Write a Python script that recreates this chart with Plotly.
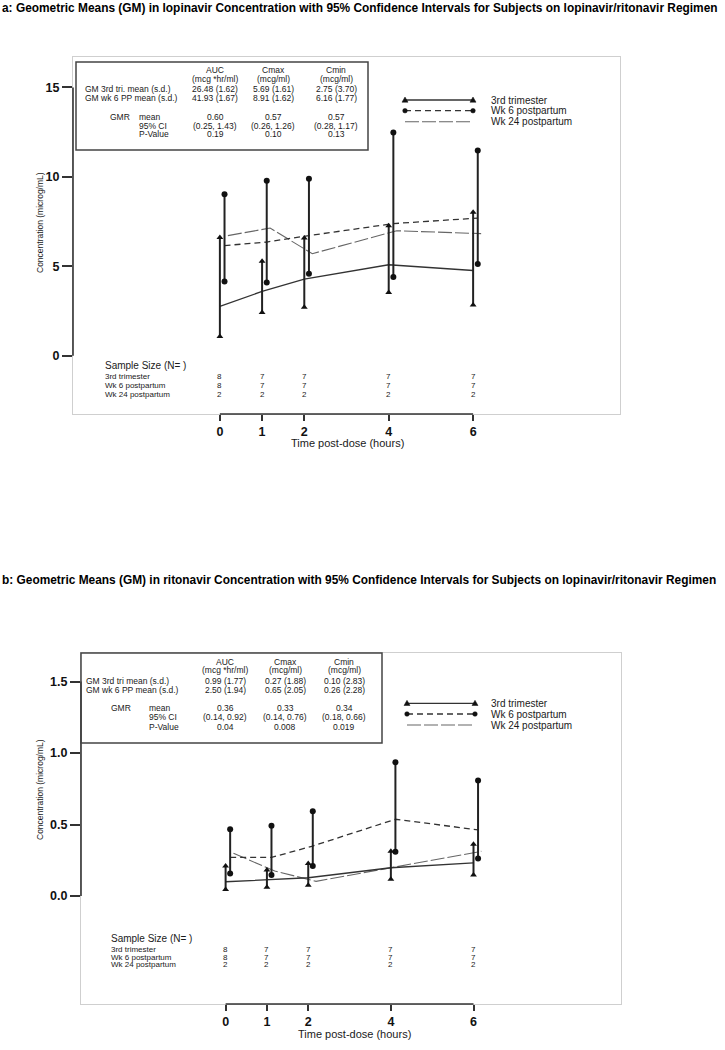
import plotly.graph_objects as go

# ---------------- data ----------------
times = [0, 1, 2, 4, 6]
tick_labels = ["0", "1", "2", "4", "6"]

# panel a: lopinavir (microg/mL)
tri_gm_a = [2.76, 3.60, 4.29, 5.09, 4.77]
tri_lo_a = [1.08, 2.42, 2.72, 3.54, 2.84]
tri_hi_a = [6.62, 5.28, 6.58, 7.27, 8.02]
wk6_gm_a = [6.16, 6.36, 6.72, 7.39, 7.70]
wk6_lo_a = [4.16, 4.10, 4.59, 4.40, 5.13]
wk6_hi_a = [9.03, 9.79, 9.89, 12.48, 11.47]
wk24_gm_a = [6.72, 7.14, 5.71, 6.99, 6.83]

# panel b: ritonavir (microg/mL)
tri_gm_b = [0.100, 0.115, 0.128, 0.198, 0.232]
tri_lo_b = [0.045, 0.062, 0.076, 0.117, 0.147]
tri_hi_b = [0.210, 0.182, 0.227, 0.314, 0.362]
wk6_gm_b = [0.270, 0.270, 0.350, 0.537, 0.463]
wk6_lo_b = [0.157, 0.147, 0.210, 0.310, 0.262]
wk6_hi_b = [0.468, 0.491, 0.593, 0.935, 0.808]
wk24_gm_b = [0.299, 0.175, 0.103, 0.210, 0.313]

# sample sizes
n_tri = [8, 7, 7, 7, 7]
n_wk6 = [8, 7, 7, 7, 7]
n_wk24 = [2, 2, 2, 2, 2]
group_names = ["3rd trimester", "Wk 6 postpartum", "Wk 24 postpartum"]

# tables
col_hdr = ["AUC", "Cmax", "Cmin"]
col_units = ["(mcg *hr/ml)", "(mcg/ml)", "(mcg/ml)"]
row_lbl_a = ["GM 3rd tri. mean (s.d.)", "GM wk 6 PP mean (s.d.)"]
row_lbl_b = ["GM 3rd tri mean (s.d.)", "GM wk 6 PP mean (s.d.)"]
gmr_lbl = ["mean", "95% CI", "P-Value"]
gm_tri_a = ["26.48 (1.62)", "5.69 (1.61)", "2.75 (3.70)"]
gm_wk6_a = ["41.93 (1.67)", "8.91 (1.62)", "6.16 (1.77)"]
gmr_mean_a = ["0.60", "0.57", "0.57"]
gmr_ci_a = ["(0.25, 1.43)", "(0.26, 1.26)", "(0.28, 1.17)"]
pval_a = ["0.19", "0.10", "0.13"]
gm_tri_b = ["0.99 (1.77)", "0.27 (1.88)", "0.10 (2.83)"]
gm_wk6_b = ["2.50 (1.94)", "0.65 (2.05)", "0.26 (2.28)"]
gmr_mean_b = ["0.36", "0.33", "0.34"]
gmr_ci_b = ["(0.14, 0.92)", "(0.14, 0.76)", "(0.18, 0.66)"]
pval_b = ["0.04", "0.008", "0.019"]

title_a = ("a: Geometric Means (GM) in lopinavir Concentration with 95% Confidence "
           "Intervals for Subjects on lopinavir/ritonavir Regimen")
title_b = ("b: Geometric Means (GM) in ritonavir Concentration with 95% Confidence "
           "Intervals for Subjects on lopinavir/ritonavir Regimen")
ytitle = "Concentration (microg/mL)"
xtitle = "Time post-dose (hours)"

# ---------------- helpers ----------------
W, H = 725, 1050
FONT = "Liberation Sans, Arial, Helvetica, sans-serif"
INK = "#1a1a1a"


def px(x):
    return x / W


def py(y):
    return 1 - y / H


fig = go.Figure()
annotations = []
shapes = []


def txt(x, y, s, size=8.5, anchor="center", xref="paper", bold=False, color=INK, angle=0):
    annotations.append(dict(
        x=px(x) if xref == "paper" else x, y=py(y), xref=xref, yref="paper",
        text=f"<b>{s}</b>" if bold else s, showarrow=False,
        xanchor=anchor, yanchor="middle", textangle=angle,
        font=dict(family=FONT, size=size, color=color)))


OFF_TRI, OFF_WK6, OFF_WK24 = 0.0, 0.11, 0.19


def add_panel(xa, ya, gm_t, lo_t, hi_t, gm_6, lo_6, hi_6, gm_24):
    xt = [t + OFF_TRI for t in times]
    x6 = [t + OFF_WK6 for t in times]
    x24 = [t + OFF_WK24 for t in times]
    fig.add_trace(go.Scatter(x=x24, y=gm_24, mode="lines", xaxis=xa, yaxis=ya,
                             line=dict(color="#666666", width=1.1, dash="14px,3px"),
                             showlegend=False, hoverinfo="skip"))
    fig.add_trace(go.Scatter(x=x6, y=gm_6, mode="lines", xaxis=xa, yaxis=ya,
                             line=dict(color="#333333", width=1.3, dash="6px,4px"),
                             showlegend=False, hoverinfo="skip"))
    fig.add_trace(go.Scatter(x=xt, y=gm_t, mode="lines", xaxis=xa, yaxis=ya,
                             line=dict(color="#333333", width=1.3),
                             showlegend=False, hoverinfo="skip"))
    for xs, los, his, sym in ((xt, lo_t, hi_t, "triangle-up"), (x6, lo_6, hi_6, "circle")):
        bx, by = [], []
        for x, lo, hi in zip(xs, los, his):
            bx += [x, x, None]
            by += [lo, hi, None]
        fig.add_trace(go.Scatter(x=bx, y=by, mode="lines+markers", xaxis=xa, yaxis=ya,
                                 line=dict(color="#222222", width=2),
                                 marker=dict(symbol=sym, size=6, color="#111111"),
                                 showlegend=False, hoverinfo="skip"))


add_panel("x", "y", tri_gm_a, tri_lo_a, tri_hi_a, wk6_gm_a, wk6_lo_a, wk6_hi_a, wk24_gm_a)
add_panel("x2", "y2", tri_gm_b, tri_lo_b, tri_hi_b, wk6_gm_b, wk6_lo_b, wk6_hi_b, wk24_gm_b)

TICKFONT = dict(family=FONT, size=12.5, color="#111", weight="bold")


def xaxis_cfg(d0, d1, rng, anchor):
    return dict(domain=[px(d0), px(d1)], range=rng, anchor=anchor,
                tickvals=times, ticktext=tick_labels, ticks="outside", ticklen=6,
                tickwidth=1.5, tickcolor="#333", showline=True, mirror=True,
                linecolor="#cfcfcf", linewidth=1, showgrid=False, zeroline=False,
                tickfont=TICKFONT, fixedrange=True)


def yaxis_cfg(top, bot, rng, tv, tt, anchor):
    return dict(domain=[py(bot), py(top)], range=rng, anchor=anchor,
                tickvals=tv, ticktext=tt, ticks="outside", ticklen=10,
                tickwidth=1.5, tickcolor="#333", showline=True, mirror=True,
                linecolor="#cfcfcf", linewidth=1, showgrid=False, zeroline=False,
                tickfont=TICKFONT, fixedrange=True)


A = dict(l=73, r=620, t=57, b=414)
B = dict(l=81, r=621, t=653, b=1004)

xa_cfg = xaxis_cfg(A["l"], A["r"], [-3.48, 9.48], "y")
ya_cfg = yaxis_cfg(A["t"], A["b"], [-3.25, 16.7], [0, 5, 10, 15], ["0", "5", "10", "15"], "x")
xb_cfg = xaxis_cfg(B["l"], B["r"], [-3.50, 9.57], "y2")
yb_cfg = yaxis_cfg(B["t"], B["b"], [-0.755, 1.70], [0, 0.5, 1.0, 1.5], ["0.0", "0.5", "1.0", "1.5"], "x2")

for xr, yr, ytop in (("x", "y", 15), ("x2", "y2", 1.5)):
    shapes.append(dict(type="line", xref=f"{xr} domain", yref=yr, x0=0, x1=0, y0=0, y1=ytop,
                       line=dict(color="#333", width=1.6)))
    shapes.append(dict(type="line", xref=xr, yref=f"{yr} domain", x0=0, x1=6, y0=0, y1=0,
                       line=dict(color="#333", width=1.6)))


def table(box, hdr_y, rows_y, gmr_y, cols_x, lbl_x, gmr_x, sub_x, row_lbls, vals, gvals):
    l, t, r, b = box
    shapes.append(dict(type="rect", xref="paper", yref="paper", x0=px(l), x1=px(r),
                       y0=py(b), y1=py(t), line=dict(color="#444", width=1.5)))
    for cx, h, u in zip(cols_x, col_hdr, col_units):
        txt(cx, hdr_y[0], h)
        txt(cx, hdr_y[1], u)
    for ry, lbl, rv in zip(rows_y, row_lbls, vals):
        txt(lbl_x, ry, lbl, anchor="left")
        for cx, v in zip(cols_x, rv):
            txt(cx, ry, v)
    txt(gmr_x, gmr_y[0], "GMR", anchor="left")
    for gy, lbl, gv in zip(gmr_y, gmr_lbl, gvals):
        txt(sub_x, gy, lbl, anchor="left")
        for cx, v in zip(cols_x, gv):
            txt(cx, gy, v)


table((76, 62, 368, 150), (70, 79), (88.7, 98.3), (116.7, 125.7, 134.3),
      (215, 273, 336), 83, 108, 137, row_lbl_a, (gm_tri_a, gm_wk6_a),
      (gmr_mean_a, gmr_ci_a, pval_a))
table((81, 653, 382, 743), (661.7, 670), (681, 690), (708.3, 717.3, 726.7),
      (225, 285, 344), 83.5, 109, 146.7, row_lbl_b, (gm_tri_b, gm_wk6_b),
      (gmr_mean_b, gmr_ci_b, pval_b))


def legend(x0, x1, xt, ys):
    styles = [("solid", "#333", 1.3, "tri"), ("6px,4px", "#333", 1.3, "dot"),
              ("14px,3px", "#666", 1.1, None)]
    for y, name, (dash, col, w, mk) in zip(ys, group_names, styles):
        shapes.append(dict(type="line", xref="paper", yref="paper", x0=px(x0), x1=px(x1),
                           y0=py(y), y1=py(y), line=dict(color=col, width=w, dash=dash)))
        for xm in (x0, x1):
            if mk == "tri":
                path = (f"M {px(xm - 3)} {py(y + 2.2)} L {px(xm + 3)} {py(y + 2.2)} "
                        f"L {px(xm)} {py(y - 3)} Z")
                shapes.append(dict(type="path", xref="paper", yref="paper", path=path,
                                   fillcolor="#111", line=dict(color="#111", width=0.5)))
            elif mk == "dot":
                shapes.append(dict(type="circle", xref="paper", yref="paper",
                                   x0=px(xm - 2.3), x1=px(xm + 2.3), y0=py(y + 2.3),
                                   y1=py(y - 2.3), fillcolor="#111",
                                   line=dict(color="#111", width=0.5)))
        txt(xt, y, name, size=10, anchor="left")


legend(405, 473, 489, (100, 110.7, 121.7))
legend(407, 475, 489, (703.3, 714, 725))


def sample_size(xl, head_y, rows_y, xref):
    txt(xl, head_y, "Sample Size (N= )", size=10, anchor="left")
    for ry, name, ns in zip(rows_y, group_names, (n_tri, n_wk6, n_wk24)):
        txt(xl, ry, name, size=8, anchor="left")
        for t, n in zip(times, ns):
            txt(t, ry, str(n), size=8, xref=xref)


sample_size(103, 365, (376.7, 385.7, 394.3), "x")
sample_size(109, 938, (949, 957, 964), "x2")

txt(0, 8, title_a, size=11.9, anchor="left", bold=True, color="#000")
txt(0, 580, title_b, size=11.9, anchor="left", bold=True, color="#000")
txt(347, 443, xtitle, size=11)
txt(354, 1034, xtitle, size=11)
txt(40, 223, ytitle, size=8.5, angle=-90)
txt(40, 790, ytitle, size=8.5, angle=-90)

fig.update_layout(
    width=W, height=H, margin=dict(l=0, r=0, t=0, b=0),
    paper_bgcolor="white", plot_bgcolor="white", showlegend=False,
    xaxis=xa_cfg, yaxis=ya_cfg, xaxis2=xb_cfg, yaxis2=yb_cfg,
    annotations=annotations, shapes=shapes,
)

fig.write_html("out.html", config={"displayModeBar": False},
               post_script="document.body.style.margin='0px';")
